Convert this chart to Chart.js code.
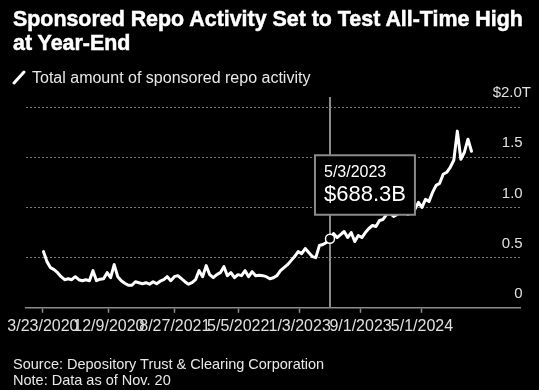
<!DOCTYPE html>
<html>
<head>
<meta charset="utf-8">
<script src="https://cdn.jsdelivr.net/npm/chart.js@4.4.0/dist/chart.umd.min.js"></script>
<style>
    html, body { margin: 0; padding: 0; background: #000; }
    #wrap { position: relative; width: 539px; height: 390px; overflow: hidden; background: #000; font-family: "Liberation Sans", Arial, sans-serif; }
    #title { position: absolute; left: 13px; top: 8px; color: #fff; font-weight: bold; font-size: 21.4px; line-height: 23.5px; white-space: nowrap; -webkit-text-stroke: 0.5px #fff; }
    #legend { position: absolute; left: 12px; top: 69px; color: #e8e8e8; font-size: 16px; line-height: 18px; white-space: nowrap; }
    #legend svg { vertical-align: -2px; margin-right: 6px; }
    #notes { position: absolute; left: 13px; top: 357px; color: #e8e8e8; font-size: 14.5px; line-height: 15.5px; white-space: nowrap; }
    canvas { position: absolute; left: 0; top: 0; }
</style>
</head>
<body>
<div id="wrap">
    <canvas id="chart" width="539" height="390"></canvas>
    <div id="title">Sponsored Repo Activity Set to Test All-Time High<br>at Year-End</div>
    <div id="legend"><svg width="14" height="15"><line x1="2" y1="13" x2="12" y2="2" stroke="#fff" stroke-width="3" stroke-linecap="round"/></svg>Total amount of sponsored repo activity</div>
    <div id="notes">Source: Depository Trust &amp; Clearing Corporation<br>Note: Data as of Nov. 20</div>
</div>
<script>
// Data (trillions of dollars, one reading every two weeks)
const startDate = '2020-03-25';
const stepDays = 14;
const repoValues = [
    0.56, 0.46, 0.40, 0.38, 0.35, 0.31, 0.28, 0.29, 0.28, 0.31,
    0.28, 0.27, 0.28, 0.27, 0.37, 0.27, 0.285, 0.29, 0.35, 0.30,
    0.43, 0.31, 0.27, 0.245, 0.225, 0.225, 0.26, 0.25, 0.24, 0.25,
    0.235, 0.26, 0.24, 0.265, 0.28, 0.31, 0.27, 0.31, 0.32, 0.29,
    0.26, 0.235, 0.25, 0.28, 0.37, 0.31, 0.42, 0.33, 0.30, 0.33,
    0.35, 0.41, 0.32, 0.35, 0.30, 0.33, 0.32, 0.37, 0.31, 0.36,
    0.32, 0.325, 0.32, 0.31, 0.29, 0.30, 0.32, 0.37, 0.40, 0.43,
    0.47, 0.51, 0.56, 0.54, 0.59, 0.55, 0.51, 0.50, 0.62, 0.63,
    0.65, 0.6883, 0.74, 0.70, 0.73, 0.76, 0.70, 0.75, 0.66, 0.72,
    0.70, 0.75, 0.79, 0.82, 0.81, 0.87, 0.88, 0.93, 0.94, 0.91,
    0.93, 0.97, 0.99, 0.93, 0.95, 0.98, 1.05, 1.00, 1.08, 1.06,
    1.15, 1.22, 1.24, 1.33, 1.35, 1.40, 1.47, 1.76, 1.48, 1.55,
    1.68, 1.56
];
const tickDates = ['2020-03-23', '2020-12-09', '2021-08-27', '2022-05-05', '2023-01-03', '2023-09-01', '2024-05-01'];
const xRange = ['2020-01-16', '2025-05-24'];
const yTicks = [0, 0.5, 1.0, 1.5, 2.0];
const highlightIndex = 81;

// Helpers
const DAY = 86400000;
const dayNum = s => Date.parse(s + 'T00:00:00Z') / DAY;
function fmtDate(d) {
    const dt = new Date(Math.round(d) * DAY);
    return `${dt.getUTCMonth() + 1}/${dt.getUTCDate()}/${dt.getUTCFullYear()}`;
}

const points = repoValues.map((v, i) => ({ x: dayNum(startDate) + i * stepDays, y: v }));

Chart.defaults.font.family = '"Liberation Sans", Arial, sans-serif';

Chart.Tooltip.positioners.pinned = function (items) {
    if (!items.length) return false;
    const el = items[0].element;
    return { x: el.x - 15, y: el.y - 24, xAlign: 'left', yAlign: 'bottom' };
};

// vertical line through the highlighted point
const crosshair = {
    id: 'crosshair',
    beforeDatasetsDraw(chart) {
        const active = chart.getActiveElements();
        if (!active.length) return;
        const { ctx, chartArea } = chart;
        const x = active[0].element.x;
        ctx.save();
        ctx.strokeStyle = '#8a8a8a';
        ctx.lineWidth = 2;
        ctx.beginPath();
        ctx.moveTo(x, chartArea.top);
        ctx.lineTo(x, chartArea.bottom);
        ctx.stroke();
        ctx.restore();
    }
};

const chart = new Chart(document.getElementById('chart'), {
    type: 'line',
    data: {
        datasets: [{
            label: 'Total amount of sponsored repo activity',
            data: points,
            borderColor: '#fff',
            borderWidth: 3,
            borderJoinStyle: 'round',
            borderCapStyle: 'round',
            pointRadius: 0,
            pointHoverRadius: 4.5,
            pointHoverBorderWidth: 1.5,
            pointHoverBorderColor: '#fff',
            pointHoverBackgroundColor: '#000',
            tension: 0
        }]
    },
    plugins: [crosshair],
    options: {
        responsive: false,
        animation: false,
        events: [],
        layout: { padding: { left: 26, right: 17, top: 97, bottom: 50 } },
        plugins: {
            legend: { display: false },
            tooltip: {
                position: 'pinned',
                backgroundColor: '#000',
                borderColor: '#8a8a8a',
                borderWidth: 2,
                cornerRadius: 0,
                caretSize: 0,
                caretPadding: 0,
                displayColors: false,
                padding: { top: 8, bottom: 7, left: 9, right: 9 },
                titleFont: { size: 16, weight: 'normal', lineHeight: 1.125 },
                titleColor: '#fff',
                titleMarginBottom: 0,
                bodyFont: { size: 22, lineHeight: 1.2 },
                bodyColor: '#fff',
                callbacks: {
                    title: items => fmtDate(items[0].parsed.x),
                    label: item => '$' + (item.parsed.y * 1000).toFixed(1) + 'B'
                }
            }
        },
        scales: {
            x: {
                type: 'linear',
                min: dayNum(xRange[0]),
                max: dayNum(xRange[1]),
                afterBuildTicks: s => { s.ticks = tickDates.map(d => ({ value: dayNum(d) })); },
                afterFit: s => { s.paddingLeft = 0; s.paddingRight = 0; },
                ticks: {
                    autoSkip: false,
                    maxRotation: 0,
                    color: '#e0e0e0',
                    font: { size: 16 },
                    padding: 4,
                    callback: v => fmtDate(v)
                },
                grid: { drawOnChartArea: false, drawTicks: true, tickLength: 5, tickColor: '#8c8c8c', tickWidth: 1.5 },
                border: { display: true, color: '#8c8c8c', width: 1.5 }
            },
            y: {
                position: 'right',
                min: 0,
                max: 2.1,
                afterBuildTicks: s => { s.ticks = yTicks.map(v => ({ value: v })); },
                afterFit: s => { s.width = 2; },
                ticks: {
                    mirror: true,
                    padding: 11,
                    labelOffset: -14,
                    color: '#e0e0e0',
                    font: { size: 15 },
                    callback: v => v === 2 ? '$2.0T' : (v === 0 ? '0' : v.toFixed(1)) + '  '
                },
                grid: { color: '#777', lineWidth: 1, drawTicks: false },
                border: { display: false, dash: [2, 2] }
            }
        }
    }
});

const active = [{ datasetIndex: 0, index: highlightIndex }];
chart.setActiveElements(active);
chart.tooltip.setActiveElements(active, { x: 0, y: 0 });
chart.update();
</script>
</body>
</html>
